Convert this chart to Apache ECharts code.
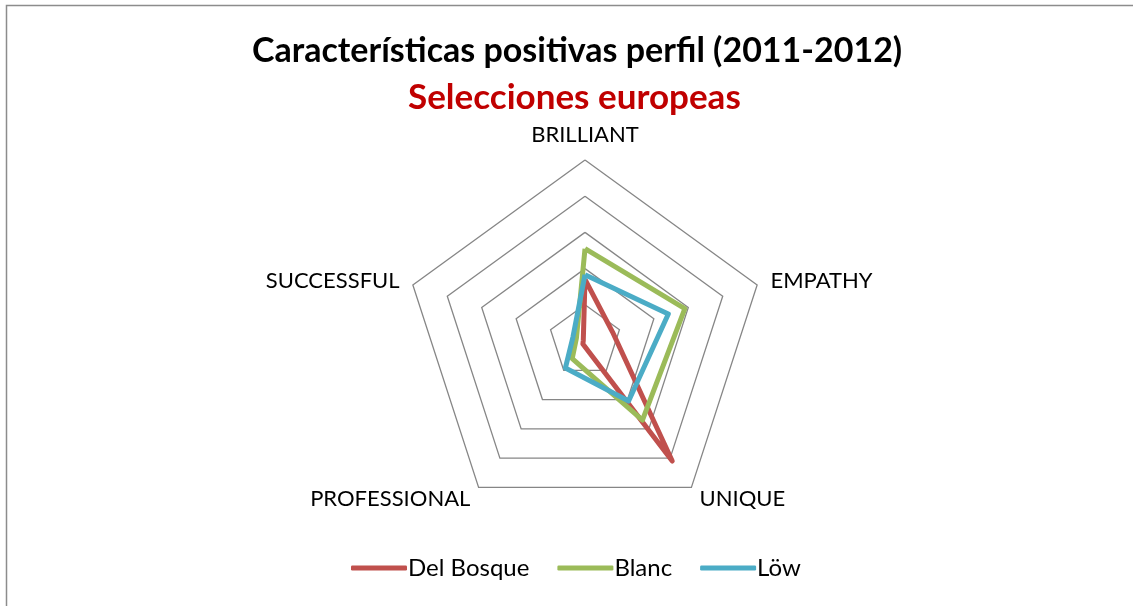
<!DOCTYPE html>
<html>
<head>
<meta charset="utf-8">
<script src="https://cdn.jsdelivr.net/npm/echarts@6/dist/echarts.min.js"></script>
<style>
html, body { margin: 0; padding: 0; background: #fff; }
#chart { width: 1133px; height: 606px; }
</style>
</head>
<body>
<div id="chart"></div>
<script>
var indicators = ['BRILLIANT', 'EMPATHY', 'UNIQUE', 'PROFESSIONAL', 'SUCCESSFUL'];
var seriesNames = ['Del Bosque', 'Blanc', 'Löw'];
var delBosque = [1.7, 0.8, 4.1, 0.1, 0.05];
var blanc = [2.55, 2.9, 2.7, 0.6, 0.25];
var low = [1.83, 2.42, 2.05, 0.92, 0.35];
var colors = ['#C0504D', '#9BBB59', '#4BACC6'];
var maxValue = 5;

var font = 'Lato, "Open Sans", sans-serif';
var chart = echarts.init(document.getElementById('chart'));

// echarts radar runs counter-clockwise, Excel clockwise -> reorder
var order = [0, 4, 3, 2, 1];
function reorder(arr) {
	return order.map(function (k) { return arr[k]; });
}

var allData = [delBosque, blanc, low];
var seriesData = [];
for (var i = 0; i < seriesNames.length; i++) {
	seriesData.push({
		name: seriesNames[i],
		value: reorder(allData[i]),
		lineStyle: { color: colors[i], width: 5 },
		itemStyle: { color: colors[i] }
	});
}

var option = {
	animation: false,
	backgroundColor: '#fff',
	title: [{
		text: 'Características positivas perfil (2011-2012)',
		left: 247,
		top: 29,
		textStyle: { fontFamily: font, fontSize: 34, fontWeight: 'bold', color: '#000' }
	}, {
		text: 'Selecciones europeas',
		left: 403,
		top: 75,
		textStyle: { fontFamily: font, fontSize: 35, fontWeight: 'bold', color: '#C00000' }
	}],
	graphic: [{
		type: 'rect',
		shape: { x: 6.5, y: 5.5, width: 1140, height: 620 },
		style: { fill: 'none', stroke: '#8c8c8c', lineWidth: 1.5 },
		silent: true
	}],
	legend: {
		data: seriesNames,
		bottom: 21,
		left: 346,
		icon: 'roundRect',
		itemWidth: 56,
		itemHeight: 5,
		itemGap: 28,
		textStyle: { fontFamily: font, fontSize: 24, color: '#000', padding: [0, 0, 0, -4] }
	},
	radar: {
		center: [585, 341],
		radius: 181,
		startAngle: 90,
		shape: 'polygon',
		splitNumber: 5,
		indicator: reorder(indicators).map(function (n) { return { name: n, max: maxValue, min: 0 }; }),
		axisName: { color: '#000', fontFamily: font, fontSize: 22 },
		nameGap: 14,
		axisLine: { show: false },
		splitArea: { show: false },
		splitLine: { lineStyle: { color: '#868686', width: 1.3 } }
	},
	series: [{
		type: 'radar',
		symbol: 'none',
		data: seriesData
	}]
};
chart.setOption(option);
</script>
</body>
</html>
